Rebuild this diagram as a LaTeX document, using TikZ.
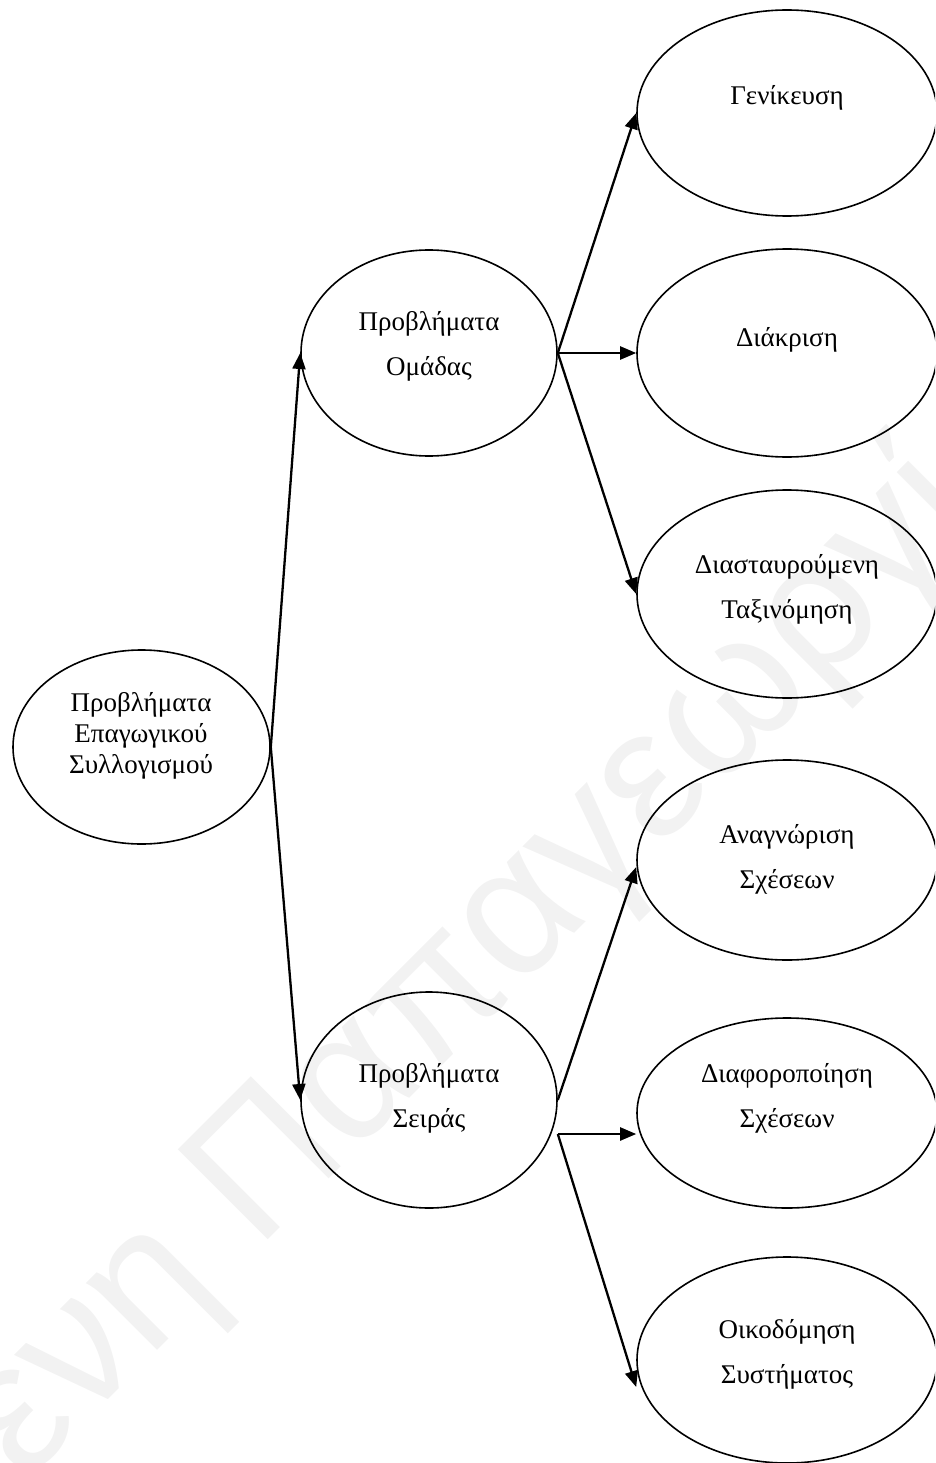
\documentclass[tikz,border=0pt]{standalone}
\usepackage{fontspec}
\setmainfont{Liberation Serif}
\newfontfamily\wmfont{Liberation Sans}
\usetikzlibrary{shapes.geometric,arrows.meta}
\definecolor{wmgray}{RGB}{242,242,242}
\begin{document}
\begin{tikzpicture}[x=1pt,y=-1pt,
  oval/.style={ellipse, draw=black, line width=1.6pt, inner sep=0pt},
  txt/.style={align=center, inner sep=0pt, font=\fontsize{27}{45}\selectfont},
  txtroot/.style={align=center, inner sep=0pt, font=\fontsize{27}{31}\selectfont},
  arr/.style={-{Triangle[length=16pt,width=13pt]}, line width=2.3pt},
  wm/.style={rotate=45, anchor=base west, inner sep=0pt, text=wmgray,
    font=\wmfont\fontsize{185}{185}\selectfont}
]
\useasboundingbox (0,0) rectangle (935,1463);
\clip (0,0) rectangle (935,1463);

% background watermark
\node[wm] (mark) at (-128,1636) {Ελένη Παπαγεωργίου};

% root
\node[oval, minimum width=257pt, minimum height=194pt] (root) at (141.5,747) {};
\node[txtroot] (root-t) at (141,736) {Προβλήματα\\Επαγωγικού\\Συλλογισμού};

% second level
\node[oval, minimum width=256pt, minimum height=206pt] (grp) at (429,353) {};
\node[txt] (grp-t) at (429,346) {Προβλήματα\\Ομάδας};
\node[oval, minimum width=256pt, minimum height=216pt] (ser) at (429,1100) {};
\node[txt] (ser-t) at (429,1098) {Προβλήματα\\Σειράς};

% third level
\node[oval, minimum width=300pt, minimum height=206pt] (gen) at (787,113) {};
\node[txt] (gen-t) at (787,98) {Γενίκευση};
\node[oval, minimum width=300pt, minimum height=208pt] (dia) at (787,353) {};
\node[txt] (dia-t) at (787,340) {Διάκριση};
\node[oval, minimum width=300pt, minimum height=208pt] (cross) at (787,594) {};
\node[txt] (cross-t) at (787,589) {Διασταυρούμενη\\Ταξινόμηση};
\node[oval, minimum width=300pt, minimum height=200pt] (recog) at (787,860) {};
\node[txt] (recog-t) at (787,859) {Αναγνώριση\\Σχέσεων};
\node[oval, minimum width=300pt, minimum height=190pt] (diff) at (787,1113) {};
\node[txt] (diff-t) at (787,1098) {Διαφοροποίηση\\Σχέσεων};
\node[oval, minimum width=300pt, minimum height=206pt] (build) at (787,1360) {};
\node[txt] (build-t) at (787,1354) {Οικοδόμηση\\Συστήματος};

% connectors
\draw[arr] (root.east) -- (grp.west);
\draw[arr] (root.east) -- (ser.west);
\draw[arr] (grp.east) -- (gen.west);
\draw[arr] (grp.east) -- (dia.west);
\draw[arr] (grp.east) -- (cross.west);
\draw[arr] (ser.east) -- ([yshift=-7pt]recog.west);
\draw[arr] ([yshift=-34pt]ser.east) -- ([yshift=-21pt]diff.west);
\draw[arr] ([yshift=-34pt]ser.east) -- ([yshift=-27pt]build.west);
\end{tikzpicture}
\end{document}
